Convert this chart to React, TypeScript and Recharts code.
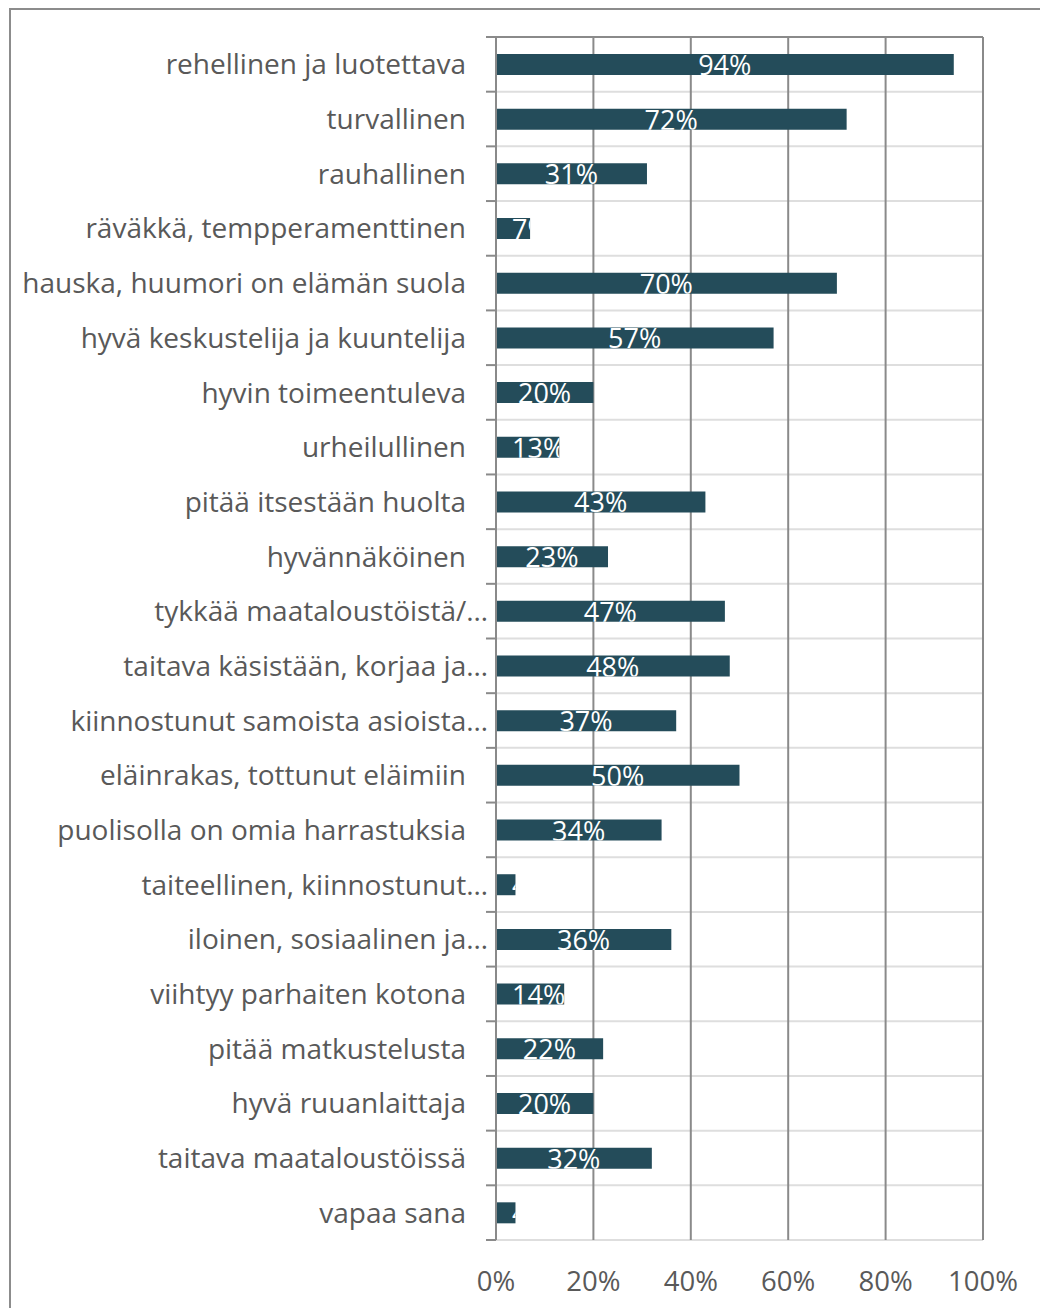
import React from "react";
import { BarChart, Bar, XAxis, YAxis, CartesianGrid } from "recharts";

const categories = [
  "rehellinen ja luotettava",
  "turvallinen",
  "rauhallinen",
  "räväkkä, tempperamenttinen",
  "hauska, huumori on elämän suola",
  "hyvä keskustelija ja kuuntelija",
  "hyvin toimeentuleva",
  "urheilullinen",
  "pitää itsestään huolta",
  "hyvännäköinen",
  "tykkää maataloustöistä/…",
  "taitava käsistään, korjaa ja…",
  "kiinnostunut samoista asioista…",
  "eläinrakas, tottunut eläimiin",
  "puolisolla on omia harrastuksia",
  "taiteellinen, kiinnostunut…",
  "iloinen, sosiaalinen ja…",
  "viihtyy parhaiten kotona",
  "pitää matkustelusta",
  "hyvä ruuanlaittaja",
  "taitava maataloustöissä",
  "vapaa sana",
];

const values = [
  0.94, 0.72, 0.31, 0.07, 0.7, 0.57, 0.2, 0.13, 0.43, 0.23, 0.47, 0.48, 0.37,
  0.5, 0.34, 0.04, 0.36, 0.14, 0.22, 0.2, 0.32, 0.04,
];

const xTicks = [0, 0.2, 0.4, 0.6, 0.8, 1];

const data = categories.map((name, i) => ({ name, value: values[i] }));

const FONT = "'Open Sans', sans-serif";
const W = 1040;
const H = 1300;
const MARGIN = { top: 20, right: 65, bottom: 8, left: 0 };
const Y_WIDTH = 488;
const TOP_AXIS_H = 9;
const BOTTOM_AXIS_H = 60;
const PLOT_TOP = MARGIN.top + TOP_AXIS_H;
const PLOT_H = H - MARGIN.top - MARGIN.bottom - TOP_AXIS_H - BOTTOM_AXIS_H;
const BAND = PLOT_H / categories.length;
const PLOT_LEFT = MARGIN.left + Y_WIDTH;

const AXIS_COLOR = "#8a8a8a";
const TEXT_COLOR = "#595959";
const BAR_COLOR = "#244c5a";

const pct = (v: number) => `${Math.round(v * 100)}%`;

function CategoryTick(props: any) {
  const { y, payload, index } = props;
  const label: string = payload.value;
  const truncated = label.endsWith("…");
  const endX = truncated ? PLOT_LEFT - 8 : PLOT_LEFT - 30;
  const last = index === categories.length - 1;
  return (
    <g>
      <line
        x1={PLOT_LEFT - 10}
        x2={PLOT_LEFT}
        y1={y - BAND / 2}
        y2={y - BAND / 2}
        stroke={AXIS_COLOR}
        strokeWidth={2}
      />
      {last && (
        <line
          x1={PLOT_LEFT - 10}
          x2={PLOT_LEFT}
          y1={y + BAND / 2}
          y2={y + BAND / 2}
          stroke={AXIS_COLOR}
          strokeWidth={2}
        />
      )}
      <text
        x={endX}
        y={y}
        dy="0.36em"
        textAnchor="end"
        fill={TEXT_COLOR}
        fontSize={28}
        fontFamily={FONT}
      >
        {label}
      </text>
    </g>
  );
}

function BarLabel(props: any) {
  const { x, y, width, height, value, index } = props;
  const text = pct(value);
  const fs = 27;
  const digits = text.length - 1;
  const w = fs * (0.572 * digits + 0.834);
  const cx = x + width / 2;
  const left = Math.max(cx - w / 2, x + 16);
  const id = `bar-label-clip-${index}`;
  return (
    <g>
      <defs>
        <clipPath id={id}>
          <rect x={x} y={y} width={width} height={height} />
        </clipPath>
      </defs>
      <text
        x={left}
        y={y + height}
        textAnchor="start"
        fill="#ffffff"
        fontSize={fs}
        fontFamily={FONT}
        clipPath={`url(#${id})`}
      >
        {text}
      </text>
    </g>
  );
}

export default function App() {
  return (
    <div style={{ position: "relative", width: W, height: H, background: "#fff" }}>
      <div
        style={{
          position: "absolute",
          left: 1,
          top: 0,
          width: W + 20,
          height: H + 20,
          borderTop: "2px solid #8c8c8c",
          borderLeft: "2px solid #8c8c8c",
          boxSizing: "border-box",
          pointerEvents: "none",
        }}
      />
      <BarChart
        width={W}
        height={H}
        data={data}
        layout="vertical"
        margin={MARGIN}
        barSize={21}
        style={{ position: "absolute", left: 0, top: 0 }}
      >
        <CartesianGrid
          stroke="#dedede"
          strokeWidth={2}
          horizontalCoordinatesGenerator={() =>
            Array.from({ length: categories.length + 1 }, (_, i) => PLOT_TOP + i * BAND)
          }
          vertical={false}
        />
        <CartesianGrid stroke={AXIS_COLOR} strokeWidth={2} horizontal={false} />
        <XAxis
          type="number"
          domain={[0, 1]}
          ticks={xTicks}
          tickFormatter={pct}
          axisLine={false}
          tickLine={false}
          tickMargin={25}
          height={BOTTOM_AXIS_H}
          tick={{ fill: TEXT_COLOR, fontSize: 27.5, fontFamily: FONT }}
          interval={0}
        />
        <XAxis
          xAxisId="top"
          orientation="top"
          type="number"
          domain={[0, 1]}
          ticks={xTicks}
          allowDataOverflow
          tick={false}
          tickSize={TOP_AXIS_H}
          height={TOP_AXIS_H}
          axisLine={{ stroke: AXIS_COLOR, strokeWidth: 2 }}
          tickLine={{ stroke: AXIS_COLOR, strokeWidth: 2 }}
          interval={0}
        />
        <YAxis
          type="category"
          dataKey="name"
          width={Y_WIDTH}
          interval={0}
          axisLine={{ stroke: AXIS_COLOR, strokeWidth: 2 }}
          tickLine={false}
          tick={<CategoryTick />}
        />
        <Bar dataKey="value" fill={BAR_COLOR} isAnimationActive={false} label={<BarLabel />} />
      </BarChart>
    </div>
  );
}
